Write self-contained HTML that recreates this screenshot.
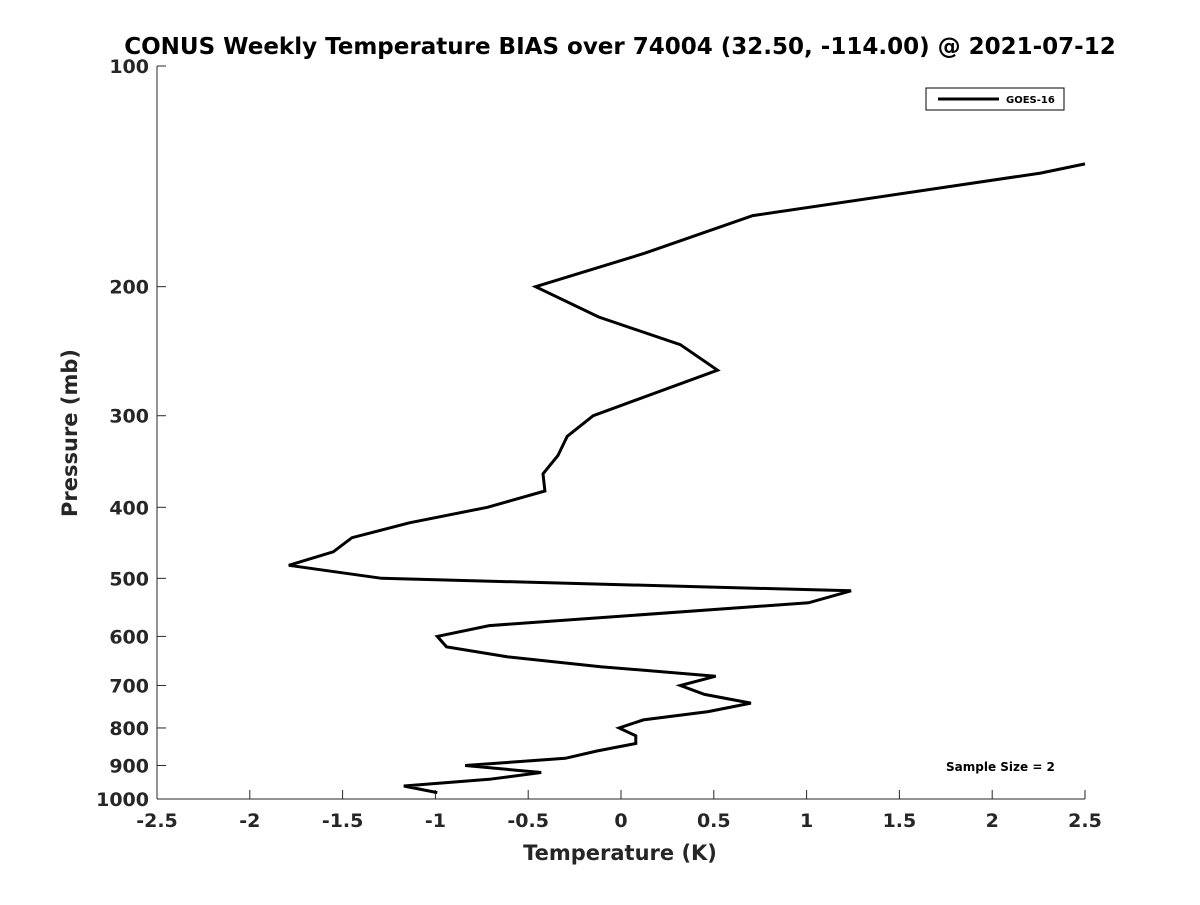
<!DOCTYPE html>
<html><head><meta charset="utf-8"><style>
body{margin:0;background:#fff}
svg text{font-family:"DejaVu Sans","Liberation Sans",sans-serif;font-weight:bold;fill:#262626}
</style></head><body>
<svg id="chart" width="1200" height="900" xmlns="http://www.w3.org/2000/svg">
<rect width="1200" height="900" fill="#fff"/>
<text x="620" y="54" text-anchor="middle" font-size="23" style="fill:#000">CONUS Weekly Temperature BIAS over 74004 (32.50, -114.00) @ 2021-07-12</text>
<g id="axes"></g>
<g id="series"></g>
<text x="620" y="860" text-anchor="middle" font-size="21">Temperature (K)</text>
<text transform="translate(77,433) rotate(-90)" text-anchor="middle" font-size="21">Pressure (mb)</text>
<g>
<rect x="926" y="88" width="138" height="22" fill="#fff" stroke="#000" stroke-width="1"/>
<line x1="938" y1="99" x2="999" y2="99" stroke="#000" stroke-width="3"/>
<text x="1006" y="103" font-size="10" style="fill:#000">GOES-16</text>
</g>
<text x="946" y="771" font-size="12" style="fill:#000">Sample Size = 2</text>
</svg>
<script>
const xTicks=[-2.5,-2,-1.5,-1,-0.5,0,0.5,1,1.5,2,2.5];
const yTicks=[100,200,300,400,500,600,700,800,900,1000];
const pressures=[136,140,160,180,200,220,240,260,300,320,340,360,380,400,420,440,460,480,500,520,540,580,600,620,640,660,680,700,720,740,760,780,800,820,840,860,880,900,920,940,960,980];
const temps=[2.50,2.26,0.71,0.13,-0.46,-0.12,0.32,0.52,-0.15,-0.29,-0.34,-0.42,-0.41,-0.72,-1.14,-1.45,-1.55,-1.79,-1.29,1.24,1.01,-0.71,-0.99,-0.94,-0.61,-0.11,0.51,0.32,0.45,0.70,0.47,0.12,-0.01,0.08,0.08,-0.13,-0.30,-0.84,-0.43,-0.71,-1.17,-0.99];
const X0=157,X1=1085,Y0=66,Y1=799;
const xs=v=>X0+(v+2.5)/5*(X1-X0);
const ys=p=>Y0+Math.log10(p/100)*(Y1-Y0);
const NS="http://www.w3.org/2000/svg";
const ax=document.getElementById('axes');
function mk(t,a,parent){const e=document.createElementNS(NS,t);for(const k in a)e.setAttribute(k,a[k]);parent.appendChild(e);return e;}
let l=mk('line',{x1:X0,y1:Y1,x2:X1,y2:Y1,stroke:'#262626','stroke-width':1},ax);


l=mk('line',{x1:X0,y1:Y0,x2:X0,y2:Y1,stroke:'#262626','stroke-width':1},ax);


xTicks.forEach(v=>{
 const x=xs(v);
 const t=mk('line',{x1:x,y1:Y1,x2:x,y2:Y1-9,stroke:'#262626'},ax);
 
 
 const tx=mk('text',{x:x,y:Y1+28,'text-anchor':'middle','font-size':19},ax);
 tx.textContent=String(v);
 
 
});
yTicks.forEach(p=>{
 const y=ys(p);
 const t=mk('line',{x1:X0,y1:y,x2:X0+9,y2:y,stroke:'#262626'},ax);
 
 
 const tx=mk('text',{x:X0-8,y:y+7,'text-anchor':'end','font-size':19},ax);
 tx.textContent=String(p);
 
 
});
const pts=temps.map((t,i)=>xs(t).toFixed(1)+','+ys(pressures[i]).toFixed(1)).join(' ');
const pl=mk('polyline',{points:pts,fill:'none',stroke:'#000','stroke-width':3,'stroke-linejoin':'miter'},document.getElementById('series'));


</script>
</body></html>
